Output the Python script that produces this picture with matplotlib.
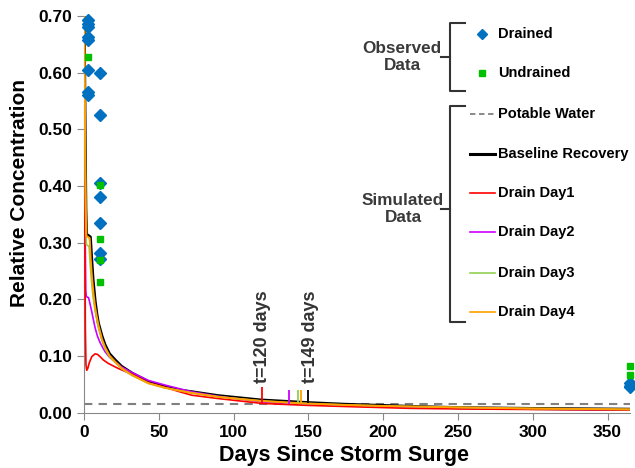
import numpy as np
import matplotlib.pyplot as plt
from matplotlib.lines import Line2D

plt.rcParams['font.family'] = ['Liberation Sans', 'DejaVu Sans']
plt.rcParams['font.weight'] = 'bold'

# observed data
drained_day = [3, 3, 3, 3, 3, 3, 3, 3, 11, 11, 11, 11, 11, 11, 11, 365, 365, 365]
drained_val = [0.693, 0.686, 0.681, 0.663, 0.657, 0.605, 0.566, 0.561,
               0.600, 0.525, 0.405, 0.381, 0.335, 0.282, 0.272, 0.052, 0.048, 0.045]
undrained_day = [3, 11, 11, 11, 11, 365, 365]
undrained_val = [0.627, 0.402, 0.306, 0.269, 0.231, 0.082, 0.0665]

potable = 0.015

# simulated curves
base_t = [0, 0.4, 0.8, 1.2, 1.6, 4.2, 5.0, 6.0, 7.4, 8.5, 9.6, 12, 14, 17, 20.8, 25, 32, 43, 54,
          64, 72, 90, 118, 150, 175, 200, 220, 250, 300, 365]
base_v = [0.70, 0.60, 0.47, 0.36, 0.315, 0.31, 0.275, 0.235, 0.197, 0.175, 0.158, 0.135, 0.12, 0.104,
          0.093, 0.082, 0.07, 0.055, 0.046, 0.040, 0.037, 0.030, 0.0225, 0.0178, 0.0148, 0.0128,
          0.011, 0.009, 0.0075, 0.0062]

d1_t = [0, 0.3, 0.6, 0.9, 1.3, 1.8, 2.5, 3.5, 5.2, 7.4, 9, 10.7, 13, 16.3, 20, 23, 32, 43, 54,
        64, 72, 90, 119, 150, 175, 218, 250, 300, 365]
d1_v = [0.70, 0.50, 0.30, 0.15, 0.085, 0.075, 0.078, 0.088, 0.099, 0.104, 0.103, 0.099, 0.093,
        0.087, 0.082, 0.078, 0.068, 0.053, 0.045, 0.037, 0.031, 0.025, 0.0165, 0.013, 0.011,
        0.0078, 0.0068, 0.0058, 0.005]

d2_t = [0, 0.3, 0.6, 0.9, 1.2, 1.5, 3.0, 3.5, 4.2, 5.2, 6.2, 7.4, 9, 10.7, 12.5, 14, 17, 20.8, 25,
        32, 43, 54, 72, 90, 118, 137, 150, 175, 200, 250, 300, 365]
d2_v = [0.70, 0.55, 0.40, 0.28, 0.215, 0.205, 0.203, 0.198, 0.19, 0.178, 0.165, 0.15, 0.135, 0.124,
        0.115, 0.108, 0.098, 0.09, 0.081, 0.071, 0.057, 0.049, 0.037, 0.029, 0.0195, 0.016,
        0.0145, 0.012, 0.0105, 0.008, 0.0065, 0.0055]

d3_t = [0, 0.4, 0.8, 1.2, 1.6, 3.4, 4.2, 5.0, 6.0, 7.4, 8.5, 9.6, 12, 14, 17, 20.8, 25, 32, 43, 54,
        72, 90, 118, 143, 175, 200, 250, 300, 365]
d3_v = [0.70, 0.58, 0.44, 0.33, 0.297, 0.293, 0.26, 0.232, 0.205, 0.18, 0.165, 0.15, 0.127, 0.113,
        0.099, 0.089, 0.078, 0.066, 0.052, 0.044, 0.035, 0.028, 0.021, 0.0168, 0.0138, 0.012,
        0.0095, 0.0075, 0.006]

d4_t = [0, 0.4, 0.8, 1.2, 1.6, 3.8, 4.5, 5.3, 6.3, 7.4, 8.5, 9.6, 12, 14, 17, 20.8, 25, 32, 43, 54,
        72, 90, 118, 145, 175, 200, 250, 300, 365]
d4_v = [0.70, 0.60, 0.47, 0.36, 0.312, 0.308, 0.27, 0.24, 0.211, 0.187, 0.17, 0.155, 0.13, 0.116,
        0.101, 0.09, 0.079, 0.0665, 0.052, 0.044, 0.035, 0.028, 0.021, 0.0168, 0.0138, 0.012,
        0.0095, 0.0075, 0.006]

# days each run reaches the threshold (small vertical ticks)
mark_day = [119, 137, 143, 145, 149.6]
mark_lo = [0.0165, 0.016, 0.017, 0.017, 0.0178]
mark_hi = [0.046, 0.041, 0.041, 0.041, 0.041]

c_red = '#FF0000'
c_mag = '#CC00FF'
c_grn = '#92D050'
c_org = '#FFA000'
c_blue = '#0070C0'
c_sq = '#00C000'
mark_col = [c_red, c_mag, c_grn, c_org, 'black']

fig = plt.figure(figsize=(6.35, 4.68), dpi=100)
ax = fig.add_axes([0.1323, 0.118, 0.8598, 0.848])

ax.axhline(potable, color='#808080', ls=(0, (4, 3)), lw=1.5, zorder=1)
ax.plot(base_t, base_v, color='black', lw=2.2, zorder=2)
ax.plot(d2_t, d2_v, color=c_mag, lw=1.2, zorder=3)
ax.plot(d1_t, d1_v, color=c_red, lw=1.2, zorder=3)
ax.plot(d3_t, d3_v, color=c_grn, lw=1.2, zorder=3)
ax.plot(d4_t, d4_v, color=c_org, lw=1.4, zorder=4)

ax.vlines(mark_day, mark_lo, mark_hi, colors=mark_col, lw=1.3, zorder=5)
ax.text(mark_day[0], 0.052, 't=120 days', rotation=90, ha='center', va='bottom',
        fontsize=13, fontweight='bold', color='#333333')
ax.text(mark_day[-1] + 2, 0.052, 't=149 days', rotation=90, ha='center', va='bottom',
        fontsize=13, fontweight='bold', color='#333333')

ax.plot(drained_day, drained_val, ls='none', marker='D', ms=6, color=c_blue, zorder=6, clip_on=False)
ax.plot(undrained_day, undrained_val, ls='none', marker='s', ms=5, color=c_sq, zorder=6, clip_on=False)

ax.set_xlim(0, 365)
ax.set_ylim(0, 0.70)
ax.set_xticks(np.arange(0, 351, 50))
ax.set_yticks(np.arange(0, 0.71, 0.1))
ax.set_yticklabels(['%.2f' % v for v in np.arange(0, 0.71, 0.1)])
for s in ['top', 'right']:
    ax.spines[s].set_visible(False)
for s in ['left', 'bottom']:
    ax.spines[s].set_color('#888888')
ax.tick_params(colors='#888888', labelcolor='black', labelsize=12.5, length=5)
for lab in ax.get_xticklabels() + ax.get_yticklabels():
    lab.set_fontweight('bold')
ax.set_xlabel('Days Since Storm Surge', fontsize=15.5, fontweight='bold', va='center')
ax.set_ylabel('Relative Concentration', fontsize=15, fontweight='bold', va='center')
ax.xaxis.set_label_coords(0.476, -0.107)
ax.yaxis.set_label_coords(-0.118, 0.555)

# custom bracket legend (figure coordinates from pixels)
W, H = 635.0, 468.0
def fx(x): return x / W
def fy(y): return 1 - y / H

def bracket(y0, y1, ym):
    kw = dict(color='#333333', lw=1.5, transform=fig.transFigure)
    fig.add_artist(Line2D([fx(465), fx(450), fx(450), fx(465)], [fy(y0), fy(y0), fy(y1), fy(y1)], **kw))
    fig.add_artist(Line2D([fx(441), fx(450)], [fy(ym), fy(ym)], **kw))

bracket(23, 91, 57)
bracket(106, 322, 209)
fig.text(fx(402), fy(57), 'Observed\nData', ha='center', va='center', fontsize=12.3,
         fontweight='bold', color='#3a3a3a', linespacing=1.1)
fig.text(fx(403), fy(209), 'Simulated\nData', ha='center', va='center', fontsize=12.3,
         fontweight='bold', color='#3a3a3a', linespacing=1.1)

leg_names = ['Drained', 'Undrained', 'Potable Water', 'Baseline Recovery',
             'Drain Day1', 'Drain Day2', 'Drain Day3', 'Drain Day4']
leg_y = [34, 73, 114, 154, 193, 232, 273, 312]
fig.add_artist(Line2D([fx(482)], [fy(34)], marker='D', ms=5, color=c_blue, ls='none',
                      transform=fig.transFigure))
fig.add_artist(Line2D([fx(482)], [fy(73)], marker='s', ms=4, color=c_sq, ls='none',
                      transform=fig.transFigure))
line_styles = [('#808080', 1.3, (0, (3, 2))), ('black', 2.2, '-'), (c_red, 1.2, '-'),
               (c_mag, 1.2, '-'), (c_grn, 1.2, '-'), (c_org, 1.2, '-')]
for (col, lw, ls), y in zip(line_styles, leg_y[2:]):
    fig.add_artist(Line2D([fx(470), fx(495)], [fy(y), fy(y)], color=col, lw=lw, ls=ls,
                          transform=fig.transFigure))
for name, y in zip(leg_names, leg_y):
    fig.text(fx(498), fy(y), name, ha='left', va='center', fontsize=10.5,
             fontweight='bold', color='black')

fig.savefig('out.png', dpi=100)
